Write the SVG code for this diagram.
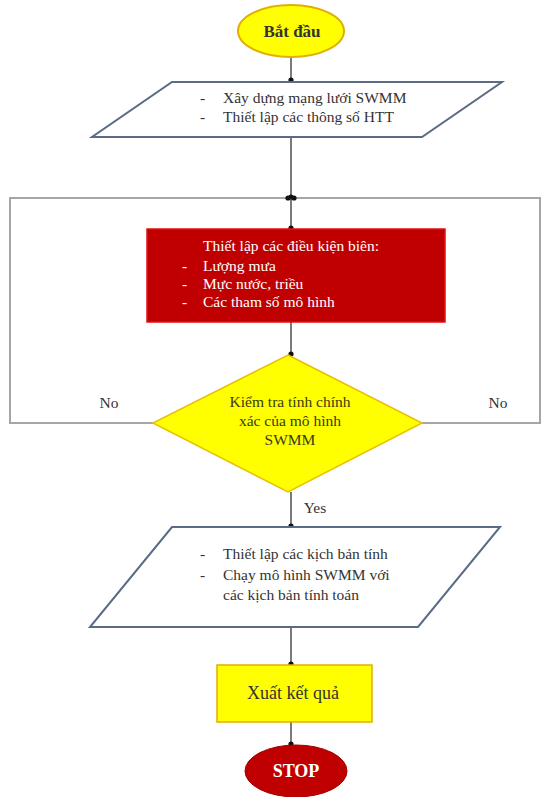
<svg xmlns="http://www.w3.org/2000/svg" width="541" height="797" viewBox="0 0 541 797">
<defs>
<marker id="dot" viewBox="0 0 6 6" refX="3" refY="3" markerWidth="6" markerHeight="6" markerUnits="userSpaceOnUse">
<circle cx="3" cy="3" r="2.6" fill="#111"/>
</marker>
<style>
.t{font-family:"Liberation Serif","Times New Roman",serif;font-size:15.5px;fill:#333}
.w{font-family:"Liberation Serif","Times New Roman",serif;font-size:15.5px;fill:#fff}
.c{stroke:#333;stroke-width:1.3;fill:none;marker-end:url(#dot)}
.loop{stroke:#a6a6a6;stroke-width:2;fill:none}
.para{fill:#fff;stroke:#5a6b85;stroke-width:2}
</style>
</defs>
<rect width="541" height="797" fill="#fff"/>
<g id="connectors">
<path class="c" d="M291 57V80"/>
<path class="c" d="M291 137V197"/>
<path class="loop" d="M153 423H10V198H288" style="marker-end:url(#dot)"/>
<path class="loop" d="M422 423H540V198H294" style="marker-end:url(#dot)"/>
<path class="c" d="M291 198V228"/>
<path class="c" d="M291 322V354"/>
<path class="c" d="M291 492V526"/>
<path class="c" d="M291 627V664"/>
<path class="c" d="M291 722V744"/>
<text class="t" x="109" y="408" text-anchor="middle">No</text>
<text class="t" x="498" y="408" text-anchor="middle">No</text>
<text class="t" x="315" y="513" text-anchor="middle">Yes</text>
</g>
<g id="start">
<ellipse cx="291" cy="31" rx="53" ry="26" fill="#ffff00" stroke="#e0b000" stroke-width="2"/>
<text class="t" x="292" y="37" text-anchor="middle" font-weight="bold" style="font-size:17px">Bắt đầu</text>
</g>
<g id="input1">
<polygon class="para" points="172,82 502,82 422,137 92,137"/>
<text class="t" x="200" y="103">-</text>
<text class="t" x="223" y="103">Xây dựng mạng lưới SWMM</text>
<text class="t" x="200" y="122">-</text>
<text class="t" x="223" y="122">Thiết lập các thông số HTT</text>
</g>
<g id="boundary">
<rect x="147" y="229" width="298" height="93" fill="#c00000" stroke="#e01010" stroke-width="1.5"/>
<text class="w" x="203" y="251">Thiết lập các điều kiện biên:</text>
<text class="w" x="182" y="271">-</text>
<text class="w" x="203" y="271">Lượng mưa</text>
<text class="w" x="182" y="289">-</text>
<text class="w" x="203" y="289">Mực nước, triều</text>
<text class="w" x="182" y="307">-</text>
<text class="w" x="203" y="307">Các tham số mô hình</text>
</g>
<g id="check">
<polygon points="288,355 422,423 288,492 153,423" fill="#ffff00" stroke="#e8c000" stroke-width="1.5"/>
<text class="t" x="290" y="407" text-anchor="middle" style="fill:#3a3a10">Kiểm tra tính chính</text>
<text class="t" x="290" y="426" text-anchor="middle" style="fill:#3a3a10">xác của mô hình</text>
<text class="t" x="290" y="445" text-anchor="middle" style="fill:#3a3a10">SWMM</text>
</g>
<g id="input2">
<polygon class="para" points="172,527 500,527 418,627 90,627"/>
<text class="t" x="200" y="559">-</text>
<text class="t" x="223" y="559">Thiết lập các kịch bản tính</text>
<text class="t" x="200" y="580">-</text>
<text class="t" x="223" y="580">Chạy mô hình SWMM với</text>
<text class="t" x="223" y="600">các kịch bản tính toán</text>
</g>
<g id="output">
<rect x="217" y="665" width="155" height="57" fill="#ffff00" stroke="#e0b000" stroke-width="1.5"/>
<text class="t" x="293" y="699" text-anchor="middle" style="font-size:18px">Xuất kết quả</text>
</g>
<g id="stop">
<ellipse cx="296" cy="771" rx="51" ry="26" fill="#c00000" stroke="#a00000" stroke-width="1"/>
<text class="w" x="296" y="777" text-anchor="middle" font-weight="bold" style="font-size:18px">STOP</text>
</g>
</svg>
